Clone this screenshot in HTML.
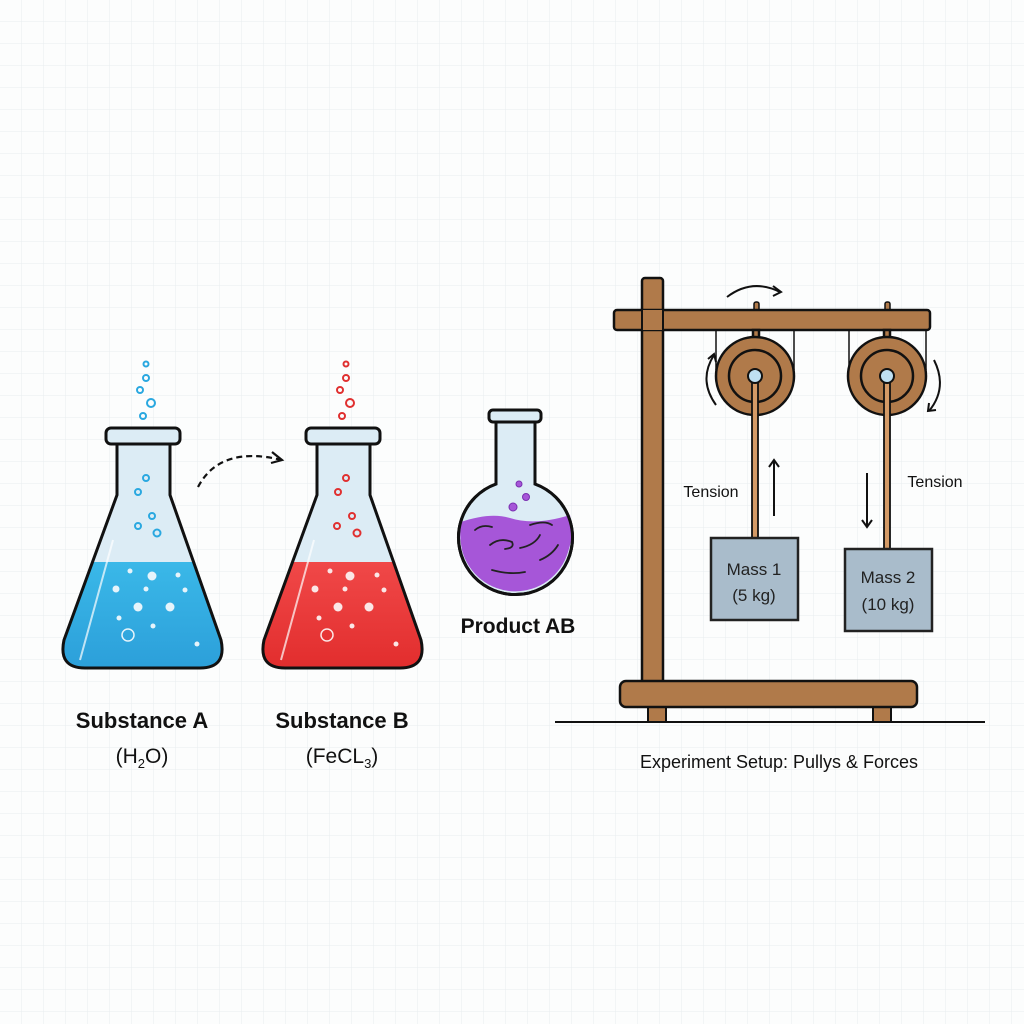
<!DOCTYPE html>
<html><head><meta charset="utf-8"><style>
html,body{margin:0;padding:0;background:#fff}
svg{display:block}
text{font-family:"Liberation Sans",sans-serif}
</style></head><body>
<svg width="1024" height="1024" viewBox="0 0 1024 1024" xmlns="http://www.w3.org/2000/svg">
<defs>
<pattern id="g" width="22" height="22" patternUnits="userSpaceOnUse">
<path d="M22 0V22H0" fill="none" stroke="#e8edf0" stroke-width="1"/>
</pattern>
<linearGradient id="blue" x1="0" y1="0" x2="0" y2="1"><stop offset="0" stop-color="#3ab8e8"/><stop offset="1" stop-color="#2a9cd8"/></linearGradient>
<linearGradient id="red" x1="0" y1="0" x2="0" y2="1"><stop offset="0" stop-color="#f04848"/><stop offset="1" stop-color="#e02a2a"/></linearGradient>
<clipPath id="fa"><path d="M117 443 L117 495 L64 640 Q58 668 85 668 L200 668 Q227 668 221 640 L170 495 L170 443 Z"/></clipPath>
<clipPath id="fb"><path d="M317 443 L317 495 L264 640 Q258 668 285 668 L400 668 Q427 668 421 640 L370 495 L370 443 Z"/></clipPath>
</defs>
<rect width="1024" height="1024" fill="#fcfdfd"/>
<rect width="1024" height="1024" fill="url(#g)"/>

<!-- Flask A -->
<path d="M117 443 L117 495 L64 640 Q58 668 85 668 L200 668 Q227 668 221 640 L170 495 L170 443 Z" fill="#dcecf5"/>
<rect x="40" y="562" width="200" height="120" fill="url(#blue)" clip-path="url(#fa)"/>
<path d="M117 443 L117 495 L64 640 Q58 668 85 668 L200 668 Q227 668 221 640 L170 495 L170 443 Z" fill="none" stroke="#111" stroke-width="3"/>
<rect x="106" y="428" width="74" height="16" rx="5" fill="#dcecf5" stroke="#111" stroke-width="3"/>
<g fill="none" stroke="#2aa8e0" stroke-width="2">
<circle cx="146" cy="364" r="2.5"/><circle cx="146" cy="378" r="3"/><circle cx="140" cy="390" r="3"/><circle cx="151" cy="403" r="4"/><circle cx="143" cy="416" r="3"/>
<circle cx="146" cy="478" r="3"/><circle cx="138" cy="492" r="3"/><circle cx="152" cy="516" r="3"/><circle cx="138" cy="526" r="3"/><circle cx="157" cy="533" r="3.5"/>
</g>
<g fill="#e6f4fb"><circle cx="130" cy="571" r="2.5"/><circle cx="152" cy="576" r="4.5"/><circle cx="178" cy="575" r="2.5"/><circle cx="116" cy="589" r="3.5"/><circle cx="146" cy="589" r="2.5"/><circle cx="185" cy="590" r="2.5"/><circle cx="138" cy="607" r="4.5"/><circle cx="170" cy="607" r="4.5"/><circle cx="119" cy="618" r="2.5"/><circle cx="153" cy="626" r="2.5"/><circle cx="197" cy="644" r="2.5"/></g>
<circle cx="128" cy="635" r="6" fill="none" stroke="#e6f4fb" stroke-width="1.5"/>
<path d="M113 540 L80 660" stroke="#fff" stroke-width="2" opacity=".7"/>

<!-- Arrow -->
<path d="M198 487 Q220 445 282 460" fill="none" stroke="#111" stroke-width="2.2" stroke-dasharray="6 4"/>
<path d="M272 452 L282 460 L271 463" fill="none" stroke="#111" stroke-width="2.2"/>

<!-- Flask B -->
<path d="M317 443 L317 495 L264 640 Q258 668 285 668 L400 668 Q427 668 421 640 L370 495 L370 443 Z" fill="#dcecf5"/>
<rect x="240" y="562" width="200" height="120" fill="url(#red)" clip-path="url(#fb)"/>
<path d="M317 443 L317 495 L264 640 Q258 668 285 668 L400 668 Q427 668 421 640 L370 495 L370 443 Z" fill="none" stroke="#111" stroke-width="3"/>
<rect x="306" y="428" width="74" height="16" rx="5" fill="#dcecf5" stroke="#111" stroke-width="3"/>
<g fill="none" stroke="#e03030" stroke-width="2">
<circle cx="346" cy="364" r="2.5"/><circle cx="346" cy="378" r="3"/><circle cx="340" cy="390" r="3"/><circle cx="350" cy="403" r="4"/><circle cx="342" cy="416" r="3"/>
<circle cx="346" cy="478" r="3"/><circle cx="338" cy="492" r="3"/><circle cx="352" cy="516" r="3"/><circle cx="337" cy="526" r="3"/><circle cx="357" cy="533" r="3.5"/>
</g>
<g fill="#fbe6e6"><circle cx="330" cy="571" r="2.5"/><circle cx="350" cy="576" r="4.5"/><circle cx="377" cy="575" r="2.5"/><circle cx="315" cy="589" r="3.5"/><circle cx="345" cy="589" r="2.5"/><circle cx="384" cy="590" r="2.5"/><circle cx="338" cy="607" r="4.5"/><circle cx="369" cy="607" r="4.5"/><circle cx="319" cy="618" r="2.5"/><circle cx="352" cy="626" r="2.5"/><circle cx="396" cy="644" r="2.5"/></g>
<circle cx="327" cy="635" r="6" fill="none" stroke="#fbe6e6" stroke-width="1.5"/>
<path d="M314 540 L281 660" stroke="#fff" stroke-width="2" opacity=".7"/>

<text x="142" y="728" font-size="22" font-weight="bold" text-anchor="middle" fill="#111">Substance A</text>
<text x="142" y="763" font-size="21" text-anchor="middle" fill="#111">(H<tspan font-size="13" dy="5">2</tspan><tspan dy="-5">O)</tspan></text>
<text x="342" y="728" font-size="22" font-weight="bold" text-anchor="middle" fill="#111">Substance B</text>
<text x="342" y="763" font-size="21" text-anchor="middle" fill="#111">(FeCL<tspan font-size="13" dy="5">3</tspan><tspan dy="-5">)</tspan></text>

<!-- Product flask -->
<path d="M496 421 L496 484 A57 57 0 1 0 535 484 L535 421 Z" fill="#dcecf5" stroke="#111" stroke-width="3"/>
<path d="M461 522 Q490 512 510 518 Q535 526 570 515 Q574 535 568 552 A55 55 0 0 1 462 550 Q459 535 461 522 Z" fill="#a656d8"/>
<path d="M496 421 L496 484 A57 57 0 1 0 535 484 L535 421 Z" fill="none" stroke="#111" stroke-width="3"/>
<g fill="none" stroke="#222" stroke-width="1.8" stroke-linecap="round">
<path d="M475 530 Q482 524 492 527"/><path d="M490 545 Q500 537 512 542 Q515 548 505 549"/><path d="M520 548 Q535 545 540 535"/><path d="M530 525 Q545 520 552 525"/><path d="M540 560 Q552 555 558 545"/><path d="M492 570 Q510 575 525 572"/>
</g>
<g fill="#a656d8" stroke="#7a2fb0" stroke-width="1"><circle cx="519" cy="484" r="3"/><circle cx="526" cy="497" r="3.5"/><circle cx="513" cy="507" r="4"/></g>
<rect x="489" y="410" width="52" height="12" rx="4" fill="#dcecf5" stroke="#111" stroke-width="3"/>
<text x="518" y="633" font-size="21" font-weight="bold" text-anchor="middle" fill="#111">Product AB</text>

<!-- Stand -->
<line x1="555" y1="722" x2="985" y2="722" stroke="#111" stroke-width="2"/>
<rect x="648" y="705" width="18" height="17" fill="#b07a4a" stroke="#111" stroke-width="2"/>
<rect x="873" y="705" width="18" height="17" fill="#b07a4a" stroke="#111" stroke-width="2"/>
<rect x="642" y="278" width="21" height="410" rx="3" fill="#b07a4a" stroke="#111" stroke-width="2.5"/>
<rect x="620" y="681" width="297" height="26" rx="6" fill="#b07a4a" stroke="#111" stroke-width="2.5"/>
<rect x="754" y="302" width="5" height="10" rx="2" fill="#b07a4a" stroke="#111" stroke-width="1.5"/>
<rect x="885" y="302" width="5" height="10" rx="2" fill="#b07a4a" stroke="#111" stroke-width="1.5"/>
<rect x="614" y="310" width="316" height="20" rx="3" fill="#b07a4a" stroke="#111" stroke-width="2.5"/>
<rect x="642" y="310" width="21" height="20" fill="#b07a4a"/>
<line x1="642" y1="310" x2="642" y2="330" stroke="#111" stroke-width="2"/>
<line x1="663" y1="310" x2="663" y2="330" stroke="#111" stroke-width="2"/>
<g stroke="#111" stroke-width="1.5" fill="none">
<path d="M716 330 V370 M794 330 V370 M849 330 V370 M926 330 V370"/>
</g>
<!-- pulleys -->
<g stroke="#111" stroke-width="2.5">
<rect x="753" y="330" width="6" height="8" fill="#b07a4a"/>
<rect x="884" y="330" width="6" height="8" fill="#b07a4a"/>
<circle cx="755" cy="376" r="39" fill="#b07a4a"/>
<circle cx="755" cy="376" r="26" fill="#b07a4a"/>
<circle cx="887" cy="376" r="39" fill="#b07a4a"/>
<circle cx="887" cy="376" r="26" fill="#b07a4a"/>
<rect x="752" y="376" width="6" height="162" fill="#d49a66" stroke-width="1.8"/>
<rect x="884" y="376" width="6" height="173" fill="#d49a66" stroke-width="1.8"/>
<circle cx="755" cy="376" r="7" fill="#bfe0f2" stroke-width="2"/>
<circle cx="887" cy="376" r="7" fill="#bfe0f2" stroke-width="2"/>
</g>
<!-- masses -->
<rect x="711" y="538" width="87" height="82" fill="#a9bccb" stroke="#222" stroke-width="2.5"/>
<rect x="845" y="549" width="87" height="82" fill="#a9bccb" stroke="#222" stroke-width="2.5"/>
<text x="754" y="575" font-size="17" text-anchor="middle" fill="#222">Mass 1</text>
<text x="754" y="601" font-size="17" text-anchor="middle" fill="#222">(5 kg)</text>
<text x="888" y="583" font-size="17" text-anchor="middle" fill="#222">Mass 2</text>
<text x="888" y="610" font-size="17" text-anchor="middle" fill="#222">(10 kg)</text>
<!-- force arrows -->
<g stroke="#111" stroke-width="2" fill="none">
<path d="M774 516 V460 M769 467 L774 460 L779 467"/>
<path d="M867 473 V527 M862 520 L867 527 L872 520"/>
<path d="M727 297 Q752 278 780 292 M773 286 L781 292 L773 296"/>
<path d="M716 405 Q698 380 714 355 M708 359 L714 354 L716 362"/>
<path d="M934 360 Q948 388 929 411 M929 403 L928 411 L936 410"/>
</g>
<text x="711" y="497" font-size="16" text-anchor="middle" fill="#111">Tension</text>
<text x="935" y="487" font-size="16" text-anchor="middle" fill="#111">Tension</text>
<text x="779" y="768" font-size="18" text-anchor="middle" fill="#111">Experiment Setup: Pullys &amp; Forces</text>
</svg>
</body></html>
